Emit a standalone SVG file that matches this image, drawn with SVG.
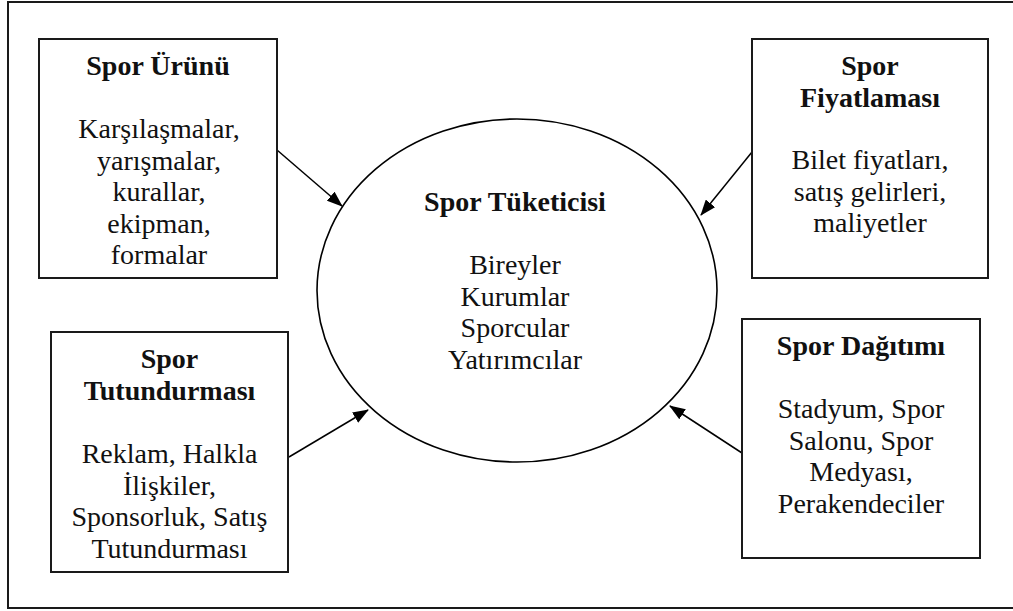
<svg xmlns="http://www.w3.org/2000/svg" width="1013" height="611" viewBox="0 0 1013 611">
  <style>
    .frame { fill: none; stroke: #1a1a1a; stroke-width: 2; }
    .box { fill: #ffffff; stroke: #1a1a1a; stroke-width: 2; }
    .hub { fill: #ffffff; stroke: #000000; stroke-width: 1.6; }
    .link { fill: none; stroke: #000000; stroke-width: 1.5; }
  </style>
  <defs>
    <marker id="arrow" viewBox="0 0 16 12" refX="15" refY="6" markerWidth="16" markerHeight="12" markerUnits="userSpaceOnUse" orient="auto">
      <path d="M0,0 L16,6 L0,12 Z" fill="#000000"/>
    </marker>
  </defs>

  <!-- outer frame, open on the right edge of the canvas -->
  <rect class="frame" x="8" y="2" width="1010" height="606"/>

  <g id="connectors">
    <line class="link" x1="277" y1="150" x2="342" y2="206" marker-end="url(#arrow)"/>
    <line class="link" x1="752" y1="152" x2="701" y2="215" marker-end="url(#arrow)"/>
    <line class="link" x1="289" y1="457" x2="368" y2="410" marker-end="url(#arrow)"/>
    <line class="link" x1="742" y1="453" x2="670" y2="406" marker-end="url(#arrow)"/>
  </g>

  <g id="consumer" style="font-family: 'Liberation Serif', serif; font-size: 28px; text-anchor: middle; fill: #111111;">
    <ellipse class="hub" cx="517" cy="290.5" rx="200" ry="171.5"/>
    <text x="515" y="211" style="font-weight: bold;">Spor Tüketicisi</text>
    <text x="515" y="274">Bireyler</text>
    <text x="515" y="305.5">Kurumlar</text>
    <text x="515" y="337">Sporcular</text>
    <text x="515" y="368.5">Yatırımcılar</text>
  </g>

  <g id="product" style="font-family: 'Liberation Serif', serif; font-size: 28px; text-anchor: middle; fill: #111111;">
    <rect class="box" x="39" y="39" width="238" height="239"/>
    <text x="158" y="75" style="font-weight: bold;">Spor Ürünü</text>
    <text x="159" y="138">Karşılaşmalar,</text>
    <text x="159" y="169.5">yarışmalar,</text>
    <text x="159" y="201">kurallar,</text>
    <text x="159" y="232.5">ekipman,</text>
    <text x="159" y="264">formalar</text>
  </g>

  <g id="pricing" style="font-family: 'Liberation Serif', serif; font-size: 28px; text-anchor: middle; fill: #111111;">
    <rect class="box" x="752" y="39" width="236" height="239"/>
    <text x="870" y="75" style="font-weight: bold;">Spor</text>
    <text x="870" y="106.5" style="font-weight: bold;">Fiyatlaması</text>
    <text x="870" y="169">Bilet fiyatları,</text>
    <text x="870" y="200.5">satış gelirleri,</text>
    <text x="870" y="232">maliyetler</text>
  </g>

  <g id="promotion" style="font-family: 'Liberation Serif', serif; font-size: 28px; text-anchor: middle; fill: #111111;">
    <rect class="box" x="51" y="332" width="237" height="240"/>
    <text x="169.5" y="368" style="font-weight: bold;">Spor</text>
    <text x="169.5" y="399.5" style="font-weight: bold;">Tutundurması</text>
    <text x="169.5" y="463">Reklam, Halkla</text>
    <text x="169.5" y="494.5">İlişkiler,</text>
    <text x="169.5" y="526">Sponsorluk, Satış</text>
    <text x="169.5" y="557.5">Tutundurması</text>
  </g>

  <g id="distribution" style="font-family: 'Liberation Serif', serif; font-size: 28px; text-anchor: middle; fill: #111111;">
    <rect class="box" x="742" y="319" width="238" height="239"/>
    <text x="861" y="355" style="font-weight: bold;">Spor Dağıtımı</text>
    <text x="861" y="418">Stadyum, Spor</text>
    <text x="861" y="449.5">Salonu, Spor</text>
    <text x="861" y="481">Medyası,</text>
    <text x="861" y="512.5">Perakendeciler</text>
  </g>
</svg>
